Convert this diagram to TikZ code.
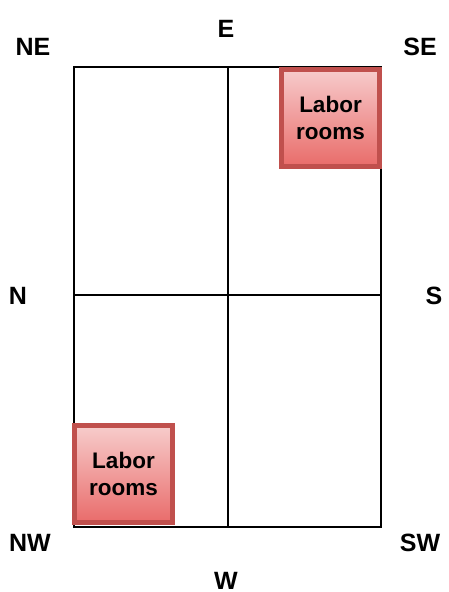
\documentclass[tikz,border=0pt]{standalone}
\usepackage{fontspec}
\setmainfont{Liberation Sans}
\begin{document}
\begin{tikzpicture}[x=1pt,y=-1pt,
  grid/.style={line width=2pt,black},
  lbl/.style={font=\fontsize{25}{28}\selectfont\bfseries,inner sep=0pt},
  room/.style={draw={rgb,255:red,192;green,80;blue,77},line width=5pt,
    top color={rgb,255:red,247;green,204;blue,204},
    bottom color={rgb,255:red,233;green,108;blue,106},
    minimum width=98pt,minimum height=97pt,inner sep=0pt,
    align=center,font=\fontsize{22.5}{27}\selectfont\bfseries}]
\useasboundingbox (0,0) rectangle (448,592);
\coordinate (tl) at (74,67);
\coordinate (tr) at (381,67);
\coordinate (bl) at (74,527);
\coordinate (br) at (381,527);
\coordinate (tm) at (228,67);
\coordinate (bm) at (228,527);
\coordinate (lm) at (74,295);
\coordinate (rm) at (381,295);
\draw[grid] (tl) rectangle (br);
\draw[grid] (tm) -- (bm);
\draw[grid] (lm) -- (rm);
\node[room] (r1) at (330.5,117.5) {Labor\\rooms};
\node[room] (r2) at (123.5,474) {Labor\\rooms};
\node[lbl] (ne) at (33,47) {NE};
\node[lbl] (e) at (226,29) {E};
\node[lbl] (se) at (420,47) {SE};
\node[lbl] (n) at (18,296) {N};
\node[lbl] (s) at (434,296) {S};
\node[lbl] (nw) at (30,543) {NW};
\node[lbl] (w) at (226,581) {W};
\node[lbl] (sw) at (420,543) {SW};
\end{tikzpicture}
\end{document}
